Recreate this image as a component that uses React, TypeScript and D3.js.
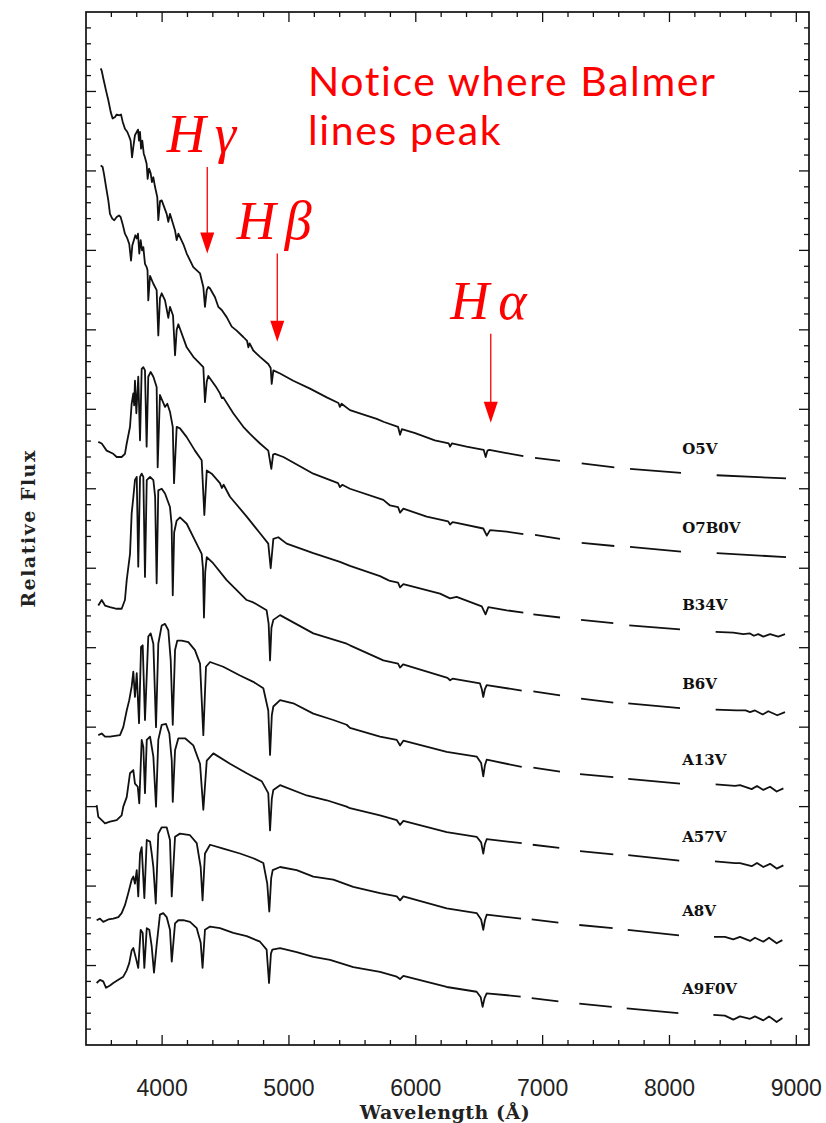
import React, { useMemo } from "react";
import * as d3 from "d3";

type Pt = [number, number] | null;

// ---- axes -------------------------------------------------------------
const WAVE_DOMAIN: [number, number] = [3400, 9100];
const FLUX_DOMAIN: [number, number] = [0, 13];
const WAVE_TICK_LABELS = [4000, 5000, 6000, 7000, 8000, 9000];
const WAVE_MINOR_STEP = 200;
const FLUX_MINOR_PER_UNIT = 5;

const SPECTRAL_TYPES = ["O5V", "O7B0V", "B34V", "B6V", "A13V", "A57V", "A8V", "A9F0V"];

// ---- spectra: [wavelength (Å), relative flux + offset]; null = telluric gap ----
const O5V: Pt[] = [
  [3516, 12.29], [3524, 12.26], [3537, 12.16], [3558, 12.01], [3576, 11.89], [3595, 11.74], [3610, 11.66],
  [3629, 11.68], [3642, 11.71], [3663, 11.7], [3676, 11.71], [3689, 11.62], [3707, 11.53], [3726, 11.49],
  [3741, 11.43], [3752, 11.38], [3763, 11.17], [3773, 11.3], [3786, 11.45], [3800, 11.49], [3810, 11.52],
  [3818, 11.38], [3826, 11.49], [3834, 11.28], [3844, 11.38], [3855, 11.22], [3865, 11.17], [3878, 11.09],
  [3886, 10.9], [3897, 11.03], [3910, 10.97], [3920, 10.86], [3931, 10.92], [3944, 10.8], [3962, 10.67],
  [3970, 10.38], [3984, 10.62],
  [3997, 10.63], [4036, 10.46], [4049, 10.36], [4062, 10.46], [4102, 10.25], [4115, 10.13], [4128, 10.21],
  [4167, 10.08], [4194, 9.96], [4246, 9.79], [4299, 9.71], [4325, 9.54], [4338, 9.29], [4352, 9.5],
  [4364, 9.54], [4378, 9.52], [4417, 9.41], [4443, 9.29], [4470, 9.25], [4509, 9.16], [4549, 9.04],
  [4588, 8.99], [4640, 8.91], [4670, 8.86], [4680, 8.78], [4690, 8.83], [4719, 8.74], [4772, 8.66],
  [4837, 8.57], [4856, 8.52], [4864, 8.32], [4877, 8.49], [4930, 8.45], [5034, 8.36], [5166, 8.26],
  [5298, 8.15], [5390, 8.08], [5402, 8.03], [5415, 8.07], [5481, 7.99], [5613, 7.92], [5692, 7.88],
  [5750, 7.84], [5860, 7.78], [5876, 7.68], [5890, 7.75], [5995, 7.7], [6150, 7.61], [6260, 7.57],
  [6270, 7.53], [6285, 7.57], [6400, 7.53], [6535, 7.49], [6551, 7.4], [6565, 7.48], [6580, 7.49],
  [6715, 7.45], [6848, 7.41], null,
  [6940, 7.39], [7137, 7.35], null,
  [7308, 7.32], [7565, 7.27], null,
  [7689, 7.25], [8091, 7.2], null,
  [8372, 7.17], [8919, 7.13],
];

const O7B0V: Pt[] = [
  [3516, 11.07], [3531, 11.05], [3542, 10.96], [3558, 10.8], [3576, 10.63], [3589, 10.46], [3607, 10.4],
  [3623, 10.38], [3642, 10.42], [3660, 10.44], [3673, 10.42], [3689, 10.33], [3707, 10.21], [3726, 10.15],
  [3741, 10.08], [3755, 9.87], [3765, 10.06], [3778, 10.13], [3789, 10.19], [3800, 10.15], [3810, 10.21],
  [3820, 9.96], [3831, 10.13], [3842, 10.0], [3852, 10.04], [3865, 9.83], [3878, 9.79], [3885, 9.75],
  [3891, 9.37],
  [3905, 9.68], [3931, 9.58], [3957, 9.5], [3970, 8.93], [3983, 9.4], [3997, 9.46], [4023, 9.37],
  [4049, 9.15], [4062, 9.29], [4086, 9.18], [4102, 8.68], [4115, 9.0], [4128, 9.07], [4194, 8.78],
  [4246, 8.66], [4325, 8.53], [4338, 8.09], [4352, 8.35], [4364, 8.42], [4430, 8.27], [4456, 8.2],
  [4471, 8.14], [4482, 8.15], [4561, 7.95], [4640, 7.78], [4693, 7.69], [4772, 7.57], [4837, 7.48],
  [4861, 7.25], [4875, 7.43], [4890, 7.44], [4956, 7.4], [5192, 7.19], [5387, 7.07], [5402, 7.02],
  [5420, 7.05], [5481, 7.0], [5744, 6.86], [5797, 6.79], [5860, 6.77], [5876, 6.7], [5902, 6.75],
  [6086, 6.65], [6255, 6.59], [6270, 6.55], [6290, 6.58], [6322, 6.57], [6532, 6.5], [6560, 6.41],
  [6585, 6.48], [6717, 6.46], [6848, 6.43], null,
  [6940, 6.42], [7137, 6.37], null,
  [7308, 6.32], [7565, 6.28], null,
  [7689, 6.27], [8091, 6.21], null,
  [8372, 6.19], [8919, 6.14],
];

const B34V: Pt[] = [
  [3497, 7.59], [3524, 7.57], [3563, 7.48], [3615, 7.44], [3642, 7.4], [3681, 7.4], [3707, 7.44],
  [3721, 7.57], [3747, 7.78], [3760, 8.07], [3773, 8.2], [3780, 8.05], [3786, 8.36], [3797, 7.95],
  [3812, 8.41], [3826, 7.61], [3839, 8.51], [3852, 8.53], [3865, 8.49], [3878, 7.53], [3891, 8.41],
  [3910, 8.47], [3931, 8.41], [3957, 8.28], [3965, 7.27], [3983, 8.18], [4023, 8.03], [4041, 8.07],
  [4062, 7.97], [4084, 7.78], [4094, 7.07], [4115, 7.78], [4141, 7.76], [4194, 7.65], [4259, 7.48],
  [4312, 7.36], [4333, 6.67], [4352, 7.23], [4391, 7.19], [4456, 7.07], [4471, 7.01], [4485, 7.05],
  [4535, 6.9], [4667, 6.65], [4772, 6.44], [4837, 6.31], [4856, 6.0], [4877, 6.37], [4916, 6.39],
  [4982, 6.31], [5192, 6.19], [5402, 6.08], [5481, 6.03], [5718, 5.9], [5770, 5.86], [5797, 5.84],
  [5860, 5.82], [5876, 5.76], [5902, 5.8], [6191, 5.68], [6270, 5.62], [6322, 5.64], [6520, 5.52],
  [6550, 5.42], [6572, 5.51], [6717, 5.47], [6848, 5.44], null,
  [6927, 5.42], [7137, 5.38], null,
  [7303, 5.35], [7557, 5.31], null,
  [7683, 5.28], [8083, 5.23], null,
  [8364, 5.2], [8503, 5.19], [8582, 5.17], [8635, 5.18], [8665, 5.15], [8700, 5.17], [8740, 5.14],
  [8793, 5.17], [8858, 5.14], [8911, 5.17],
];

const B6V: Pt[] = [
  [3497, 5.53], [3524, 5.6], [3550, 5.53], [3589, 5.51], [3642, 5.49], [3681, 5.49], [3707, 5.6],
  [3721, 5.85], [3747, 6.18], [3760, 6.69], [3773, 6.89], [3786, 7.11], [3800, 7.15], [3812, 6.02],
  [3826, 7.15], [3839, 7.19], [3852, 7.15], [3865, 5.89], [3879, 7.11], [3905, 7.15], [3931, 7.11],
  [3945, 6.9], [3957, 5.81], [3970, 6.98], [3997, 7.0], [4023, 6.94], [4062, 6.77], [4075, 6.55],
  [4084, 5.66], [4095, 6.45], [4115, 6.6], [4141, 6.64], [4194, 6.56], [4259, 6.35], [4312, 6.18],
  [4322, 6.0], [4330, 5.38], [4340, 5.95], [4352, 6.14], [4404, 6.06], [4509, 5.85], [4667, 5.6],
  [4719, 5.57], [4824, 5.47], [4840, 5.3], [4851, 4.84], [4862, 5.25], [4877, 5.35], [4930, 5.41],
  [5192, 5.18], [5455, 5.05], [5481, 5.03], [5744, 4.84], [5860, 4.8], [5876, 4.75], [5900, 4.79],
  [6250, 4.62], [6270, 4.59], [6290, 4.61], [6506, 4.55], [6520, 4.48], [6532, 4.38], [6545, 4.48],
  [6559, 4.53], [6835, 4.46], null,
  [6927, 4.45], [7137, 4.4], null,
  [7303, 4.36], [7557, 4.31], null,
  [7675, 4.3], [8083, 4.24], null,
  [8364, 4.22], [8530, 4.21], [8600, 4.21], [8635, 4.19], [8674, 4.21], [8735, 4.16], [8779, 4.2],
  [8850, 4.15], [8911, 4.19],
];

const A13V: Pt[] = [
  [3497, 3.9], [3524, 3.92], [3550, 3.88], [3589, 3.88], [3668, 3.9], [3694, 4.0], [3721, 4.21],
  [3741, 4.34], [3760, 4.51], [3773, 4.7], [3786, 4.38], [3800, 4.68], [3818, 4.05], [3834, 5.01],
  [3847, 5.03], [3865, 4.09], [3891, 5.14], [3910, 5.18], [3931, 5.05], [3952, 4.0], [3970, 5.05],
  [3997, 5.28], [4023, 5.3], [4049, 5.22], [4068, 4.84], [4084, 4.03], [4102, 4.97], [4120, 5.09],
  [4154, 5.09], [4207, 5.07], [4259, 4.97], [4299, 4.8], [4325, 3.9], [4346, 4.76], [4378, 4.82],
  [4482, 4.76], [4614, 4.65], [4719, 4.57], [4798, 4.49], [4837, 4.21], [4851, 3.65], [4865, 4.15],
  [4877, 4.26], [4930, 4.34], [5034, 4.3], [5192, 4.17], [5350, 4.09], [5455, 4.03], [5481, 3.99],
  [5718, 3.88], [5850, 3.84], [5876, 3.77], [5902, 3.83], [6244, 3.69], [6480, 3.63], [6515, 3.55],
  [6532, 3.38], [6545, 3.52], [6559, 3.59], [6835, 3.5], null,
  [6927, 3.49], [7137, 3.44], null,
  [7295, 3.41], [7557, 3.37], null,
  [7675, 3.35], [8083, 3.29], null,
  [8364, 3.28], [8517, 3.26], [8556, 3.27], [8648, 3.22], [8690, 3.26], [8740, 3.21], [8793, 3.25],
  [8845, 3.19], [8898, 3.23],
];

const A57V: Pt[] = [
  [3484, 3.02], [3497, 2.87], [3524, 2.83], [3550, 2.79], [3589, 2.81], [3642, 2.83], [3681, 2.89],
  [3694, 3.0], [3721, 3.12], [3747, 3.42], [3773, 3.46], [3786, 3.29], [3808, 3.25], [3820, 3.04],
  [3839, 3.84], [3852, 3.75], [3865, 3.17], [3879, 3.84], [3905, 3.88], [3931, 3.63], [3952, 3.0],
  [3970, 3.84], [3997, 4.03], [4031, 4.04], [4057, 3.92], [4076, 3.58], [4084, 3.06], [4102, 3.71],
  [4128, 3.86], [4181, 3.86], [4246, 3.77], [4299, 3.54], [4325, 2.96], [4352, 3.58], [4404, 3.67],
  [4535, 3.54], [4667, 3.42], [4785, 3.32], [4837, 3.17], [4851, 2.7], [4865, 3.1], [4877, 3.21],
  [4930, 3.27], [5140, 3.14], [5298, 3.08], [5455, 3.0], [5481, 2.98], [5718, 2.89], [5850, 2.83],
  [5876, 2.77], [5902, 2.82], [6244, 2.68], [6480, 2.62], [6515, 2.55], [6532, 2.41], [6545, 2.53],
  [6559, 2.59], [6835, 2.54], null,
  [6922, 2.52], [7131, 2.48], null,
  [7295, 2.44], [7557, 2.4], null,
  [7675, 2.39], [8077, 2.32], null,
  [8359, 2.31], [8517, 2.29], [8556, 2.29], [8648, 2.25], [8690, 2.29], [8740, 2.24], [8793, 2.28],
  [8845, 2.22], [8898, 2.26],
];

const A8V: Pt[] = [
  [3484, 1.57], [3510, 1.59], [3536, 1.55], [3576, 1.58], [3615, 1.59], [3655, 1.61], [3681, 1.66],
  [3707, 1.76], [3733, 1.91], [3760, 2.08], [3773, 2.12], [3786, 2.03], [3800, 2.2], [3812, 1.87],
  [3826, 2.41], [3839, 2.49], [3860, 1.85], [3879, 2.58], [3905, 2.56], [3918, 2.41], [3931, 2.24],
  [3950, 1.78], [3970, 2.66], [3997, 2.74], [4036, 2.74], [4062, 2.58], [4076, 1.87], [4102, 2.62],
  [4141, 2.66], [4220, 2.64], [4273, 2.54], [4304, 2.24], [4319, 1.82], [4338, 2.41], [4378, 2.52],
  [4482, 2.47], [4614, 2.41], [4719, 2.35], [4798, 2.29], [4829, 2.03], [4845, 1.68], [4860, 2.1],
  [4872, 2.2], [4930, 2.24], [5061, 2.2], [5192, 2.12], [5350, 2.08], [5507, 1.99], [5718, 1.91],
  [5850, 1.87], [5876, 1.82], [5902, 1.87], [6244, 1.72], [6480, 1.66], [6515, 1.58], [6532, 1.45],
  [6545, 1.57], [6559, 1.64], [6830, 1.59], null,
  [6914, 1.58], [7124, 1.54], null,
  [7289, 1.51], [7552, 1.47], null,
  [7671, 1.45], [8075, 1.38], null,
  [8351, 1.36], [8437, 1.36], [8503, 1.33], [8556, 1.36], [8635, 1.31], [8674, 1.35], [8740, 1.3],
  [8785, 1.35], [8845, 1.28], [8890, 1.32],
];

const A9F0V: Pt[] = [
  [3484, 0.78], [3510, 0.82], [3536, 0.8], [3558, 0.72], [3589, 0.75], [3615, 0.78], [3655, 0.82],
  [3694, 0.86], [3721, 0.94], [3741, 1.03], [3760, 1.19], [3773, 1.22], [3794, 1.09], [3812, 0.97],
  [3831, 1.45], [3847, 1.41], [3860, 0.97], [3879, 1.47], [3899, 1.45], [3918, 1.24], [3936, 0.91],
  [3957, 1.26], [3983, 1.64], [4009, 1.66], [4036, 1.61], [4062, 1.45], [4076, 1.05], [4102, 1.53],
  [4128, 1.57], [4167, 1.57], [4220, 1.55], [4273, 1.47], [4304, 1.29], [4319, 0.97], [4338, 1.45],
  [4378, 1.49], [4456, 1.47], [4561, 1.41], [4667, 1.37], [4772, 1.3], [4824, 1.2], [4843, 0.78],
  [4858, 1.15], [4869, 1.2], [4930, 1.22], [5061, 1.17], [5192, 1.11], [5324, 1.07], [5507, 0.98],
  [5718, 0.92], [5850, 0.86], [5876, 0.83], [5902, 0.87], [6244, 0.73], [6480, 0.67], [6512, 0.6],
  [6527, 0.48], [6542, 0.59], [6559, 0.65], [6827, 0.61], null,
  [6914, 0.59], [7124, 0.55], null,
  [7289, 0.52], [7545, 0.48], null,
  [7663, 0.46], [8070, 0.4], null,
  [8346, 0.38], [8437, 0.37], [8503, 0.32], [8556, 0.36], [8635, 0.33], [8674, 0.36], [8740, 0.31],
  [8785, 0.36], [8845, 0.29], [8890, 0.34],
];

const SPECTRA: Pt[][] = [O5V, O7B0V, B34V, B6V, A13V, A57V, A8V, A9F0V];

// Balmer-line call-outs: symbol, wavelength the arrow marks, arrow top / tip in flux units
const BALMER_SYMBOLS = ["γ", "β", "α"];
const BALMER_ARROW_WAVES = [4356, 4908, 6591];
const BALMER_ARROW_TOPS = [11.05, 9.96, 8.95];
const BALMER_ARROW_TIPS = [9.96, 8.85, 7.83];

const NOTE_LINES = ["Notice where Balmer", "lines peak"];

const W = 826;
const H = 1123;
const M = { left: 86, right: 809, top: 12, bottom: 1045 };
const RED = "#ff0000";
const INK = "#111";

export default function App() {
  const x = useMemo(() => d3.scaleLinear().domain(WAVE_DOMAIN).range([M.left, M.right]), []);
  const y = useMemo(() => d3.scaleLinear().domain(FLUX_DOMAIN).range([M.bottom, M.top]), []);

  const line = d3
    .line<Pt>()
    .defined((d) => d !== null)
    .x((d) => x((d as [number, number])[0]))
    .y((d) => y((d as [number, number])[1]));

  const waveTicks = d3.range(WAVE_DOMAIN[0] + WAVE_MINOR_STEP, WAVE_DOMAIN[1], WAVE_MINOR_STEP);
  const fluxTicks = d3.range(1, FLUX_DOMAIN[1] * FLUX_MINOR_PER_UNIT).map((i) => ({
    v: i / FLUX_MINOR_PER_UNIT,
    major: i % FLUX_MINOR_PER_UNIT === 0,
  }));

  // label sits above the spectrum where the 7700-8100 Å stretch ends
  const labelAnchor = (s: Pt[]) => {
    const pts = s.filter((d) => d !== null) as [number, number][];
    return pts.reduce((a, b) => (Math.abs(b[0] - 8090) < Math.abs(a[0] - 8090) ? b : a));
  };

  return (
    <div style={{ position: "absolute", left: 0, top: 0 }}>
      <svg width={W} height={H} style={{ display: "block", background: "#fff" }}>
        {/* frame */}
        <rect
          x={M.left}
          y={M.top}
          width={M.right - M.left}
          height={M.bottom - M.top}
          fill="none"
          stroke={INK}
          strokeWidth={1.7}
        />
        {/* wavelength ticks, bottom and top, pointing inward */}
        {waveTicks.map((t) => {
          const len = t % 1000 === 0 ? 10 : 5;
          return (
            <g key={"wt" + t} stroke={INK} strokeWidth={1.3}>
              <line x1={x(t)} x2={x(t)} y1={M.bottom} y2={M.bottom - len} />
              <line x1={x(t)} x2={x(t)} y1={M.top} y2={M.top + len} />
            </g>
          );
        })}
        {/* flux ticks, left and right */}
        {fluxTicks.map((t) => {
          const len = t.major ? 10 : 5;
          return (
            <g key={"ft" + t.v} stroke={INK} strokeWidth={1.3}>
              <line x1={M.left} x2={M.left + len} y1={y(t.v)} y2={y(t.v)} />
              <line x1={M.right} x2={M.right - len} y1={y(t.v)} y2={y(t.v)} />
            </g>
          );
        })}
        {WAVE_TICK_LABELS.map((t) => (
          <text
            key={"wl" + t}
            x={x(t)}
            y={1096}
            textAnchor="middle"
            fontFamily="Liberation Sans, Arial, sans-serif"
            fontSize={23}
            fill="#222"
          >
            {t}
          </text>
        ))}
        <text
          x={445}
          y={1119}
          textAnchor="middle"
          fontFamily="DejaVu Serif, serif"
          fontWeight="bold"
          fontSize={19}
          letterSpacing={0.5}
          fill="#222"
        >
          Wavelength (Å)
        </text>
        <text
          transform={`translate(35, ${(M.top + M.bottom) / 2}) rotate(-90)`}
          textAnchor="middle"
          fontFamily="DejaVu Serif, serif"
          fontWeight="bold"
          fontSize={19}
          letterSpacing={1.5}
          fill="#222"
        >
          Relative Flux
        </text>

        {/* spectra */}
        {SPECTRA.map((s, i) => (
          <path
            key={"sp" + i}
            d={line(s) || ""}
            fill="none"
            stroke={INK}
            strokeWidth={1.8}
            strokeLinejoin="round"
          />
        ))}
        {SPECTRA.map((s, i) => {
          const a = labelAnchor(s);
          return (
            <text
              key={"lab" + i}
              x={x(8100)}
              y={y(a[1]) - 19}
              fontFamily="DejaVu Serif, serif"
              fontWeight="bold"
              fontSize={15}
              fill={INK}
            >
              {SPECTRAL_TYPES[i]}
            </text>
          );
        })}

        {/* Balmer call-outs */}
        {BALMER_SYMBOLS.map((sym, i) => {
          const ax = x(BALMER_ARROW_WAVES[i]);
          const top = y(BALMER_ARROW_TOPS[i]);
          const tip = y(BALMER_ARROW_TIPS[i]);
          const head = 21;
          return (
            <g key={"bal" + i}>
              <text
                x={ax - 40.5}
                y={top - 14.5}
                fontFamily="Liberation Serif, Times New Roman, serif"
                fontStyle="italic"
                fontSize={54}
                fill={RED}
              >
                H
                <tspan dx={9}>{sym}</tspan>
              </text>
              <line x1={ax} x2={ax} y1={top} y2={tip - head + 2} stroke={RED} strokeWidth={1.3} />
              <path d={`M${ax - 7},${tip - head} L${ax + 7},${tip - head} L${ax},${tip} Z`} fill={RED} />
            </g>
          );
        })}
        {NOTE_LINES.map((t, i) => (
          <text
            key={t}
            x={308}
            y={96 + i * 49}
            fontFamily="Lato, sans-serif"
            fontSize={41}
            letterSpacing={1.6}
            fill={RED}
          >
            {t}
          </text>
        ))}
      </svg>
    </div>
  );
}
